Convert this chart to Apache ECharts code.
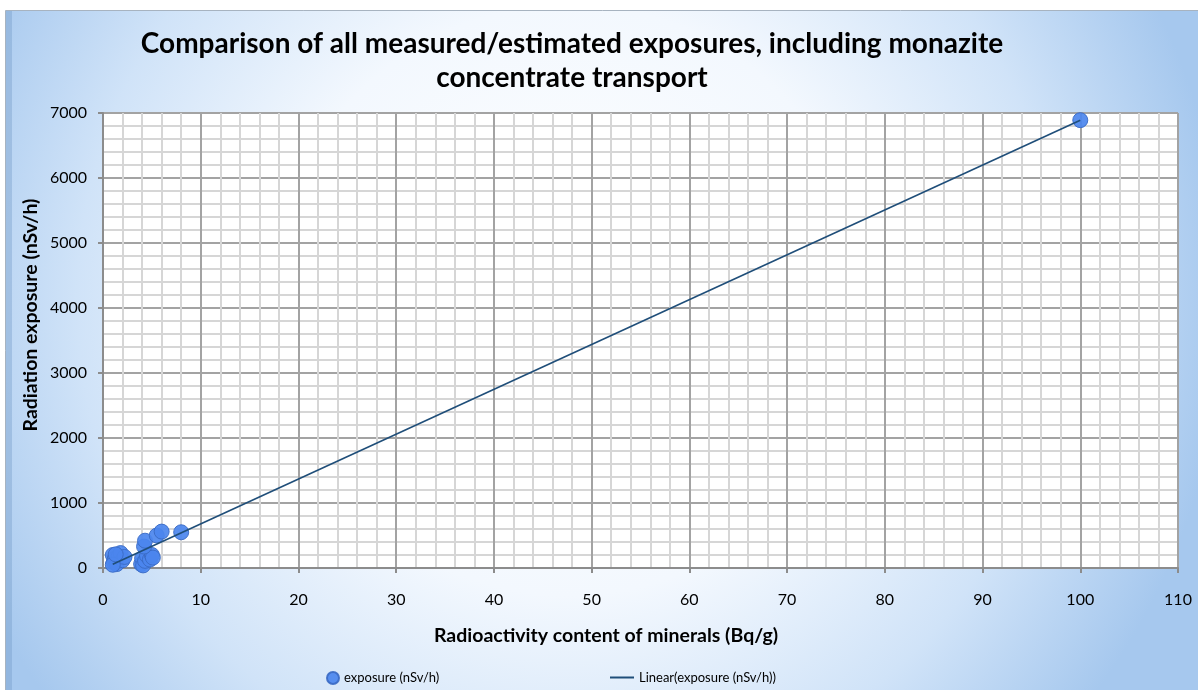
<!DOCTYPE html>
<html>
<head>
<meta charset="utf-8">
<script src="https://cdn.jsdelivr.net/npm/echarts@6/dist/echarts.min.js"></script>
<style>
  html, body { margin: 0; padding: 0; background: #ffffff; }
  #chart { width: 1198px; height: 690px; }
</style>
</head>
<body>
<div id="chart"></div>
<script>
// Measured / estimated exposures against radioactivity content
const exposureX = [1.0, 1.1, 1.2, 1.4, 1.6, 1.8, 2.0, 2.2, 1.0, 1.3,
                   3.9, 4.0, 4.1, 4.3, 4.5, 4.8, 5.0, 5.1, 4.2, 4.3,
                   5.5, 6.0, 8.0, 100];
const exposureY = [200, 90, 140, 60, 180, 230, 120, 170, 50, 210,
                   60, 150, 40, 110, 190, 130, 200, 160, 330, 420,
                   500, 560, 550, 6890];

// Linear trend line end points
const trendX = [1, 100];
const trendY = [57, 6890];

const xTicks = { min: 0, max: 110, interval: 10 };
const yTicks = { min: 0, max: 7000, interval: 1000 };

const seriesNames = ['exposure (nSv/h)', 'Linear(exposure (nSv/h))'];
const titleLines = ['Comparison of all measured/estimated exposures, including monazite',
                    'concentrate transport'];
const xName = 'Radioactivity content of minerals (Bq/g)';
const yName = 'Radiation exposure (nSv/h)';

const FONT = 'Lato, "Open Sans", sans-serif';

const chart = echarts.init(document.getElementById('chart'), null, { renderer: 'canvas' });

const axisCommon = {
  axisLine: { show: true, lineStyle: { color: '#8c8c8c', width: 2 } },
  axisTick: { show: true, inside: false, length: 5, lineStyle: { color: '#8c8c8c', width: 2 } },
  splitLine: { show: true, lineStyle: { color: '#a3a3a3', width: 2 } },
  minorTick: { show: false, splitNumber: 5 },
  minorSplitLine: { show: true, lineStyle: { color: '#d6d6d6', width: 2 } },
  axisLabel: { color: '#000', fontFamily: FONT, fontSize: 16, formatter: (v) => String(v) }
};

chart.setOption({
  animation: false,
  backgroundColor: '#ffffff',
  graphic: [
    {
      type: 'rect', z: -10, silent: true,
      shape: { x: 5.5, y: 10.5, width: 1200, height: 690 },
      style: {
        fill: {
          type: 'radial', x: 0.47, y: 0.42, r: 0.95,
          colorStops: [
            { offset: 0, color: '#ffffff' },
            { offset: 0.45, color: '#f3f8fe' },
            { offset: 0.75, color: '#d0e3f8' },
            { offset: 1, color: '#a6c8ee' }
          ]
        },
        stroke: '#a7b3c0', lineWidth: 1
      }
    },
    {
      type: 'rect', z: -9, silent: true,
      shape: { x: 6, y: 11, width: 6, height: 690 },
      style: { fill: 'rgba(110,150,195,0.35)' }
    },
    {
      type: 'text', z: 10,
      style: {
        text: xName, x: 606, y: 636, align: 'center', verticalAlign: 'middle',
        font: 'bold 19.5px ' + FONT, fill: '#000'
      }
    },
    {
      type: 'text', z: 10, x: 31, y: 315, rotation: Math.PI / 2,
      style: {
        text: yName, x: 0, y: 0, align: 'center', verticalAlign: 'middle',
        font: 'bold 19.5px ' + FONT, fill: '#000'
      }
    }
  ],
  title: {
    text: titleLines.join('\n'),
    left: 567, top: 22,
    textAlign: 'center',
    textStyle: { fontFamily: FONT, fontWeight: 'bold', fontSize: 28, lineHeight: 34, color: '#000' }
  },
  legend: [
    {
      data: [{ name: seriesNames[0], icon: 'circle' }],
      left: 326, top: 671, padding: 0, itemWidth: 12, itemHeight: 12, itemGap: 5,
      textStyle: { fontFamily: FONT, fontSize: 13, color: '#000' }
    },
    {
      data: [{ name: seriesNames[1], icon: 'rect' }],
      left: 610, top: 671, padding: 0, itemWidth: 24, itemHeight: 2, itemGap: 5,
      textStyle: { fontFamily: FONT, fontSize: 13, color: '#000' }
    }
  ],
  grid: {
    left: 103, right: 20, top: 113, bottom: 122, containLabel: false,
    show: true, backgroundColor: '#ffffff', borderWidth: 0
  },
  xAxis: Object.assign({}, axisCommon, {
    type: 'value', min: xTicks.min, max: xTicks.max, interval: xTicks.interval,
    axisLabel: Object.assign({}, axisCommon.axisLabel, { margin: 24 })
  }),
  yAxis: Object.assign({}, axisCommon, {
    type: 'value', min: yTicks.min, max: yTicks.max, interval: yTicks.interval,
    axisLabel: Object.assign({}, axisCommon.axisLabel, { margin: 16 })
  }),
  series: [
    {
      name: seriesNames[0], type: 'scatter', z: 3,
      symbol: 'circle', symbolSize: 15,
      itemStyle: { color: '#4b86ee', borderColor: '#3a6ac4', borderWidth: 1, opacity: 0.92 },
      data: exposureX.map((x, i) => [x, exposureY[i]])
    },
    {
      name: seriesNames[1], type: 'line', z: 4,
      symbol: 'none', showSymbol: false,
      lineStyle: { color: '#1f4e79', width: 1.6 },
      itemStyle: { color: '#1f4e79' },
      data: trendX.map((x, i) => [x, trendY[i]])
    }
  ]
});
</script>
</body>
</html>
